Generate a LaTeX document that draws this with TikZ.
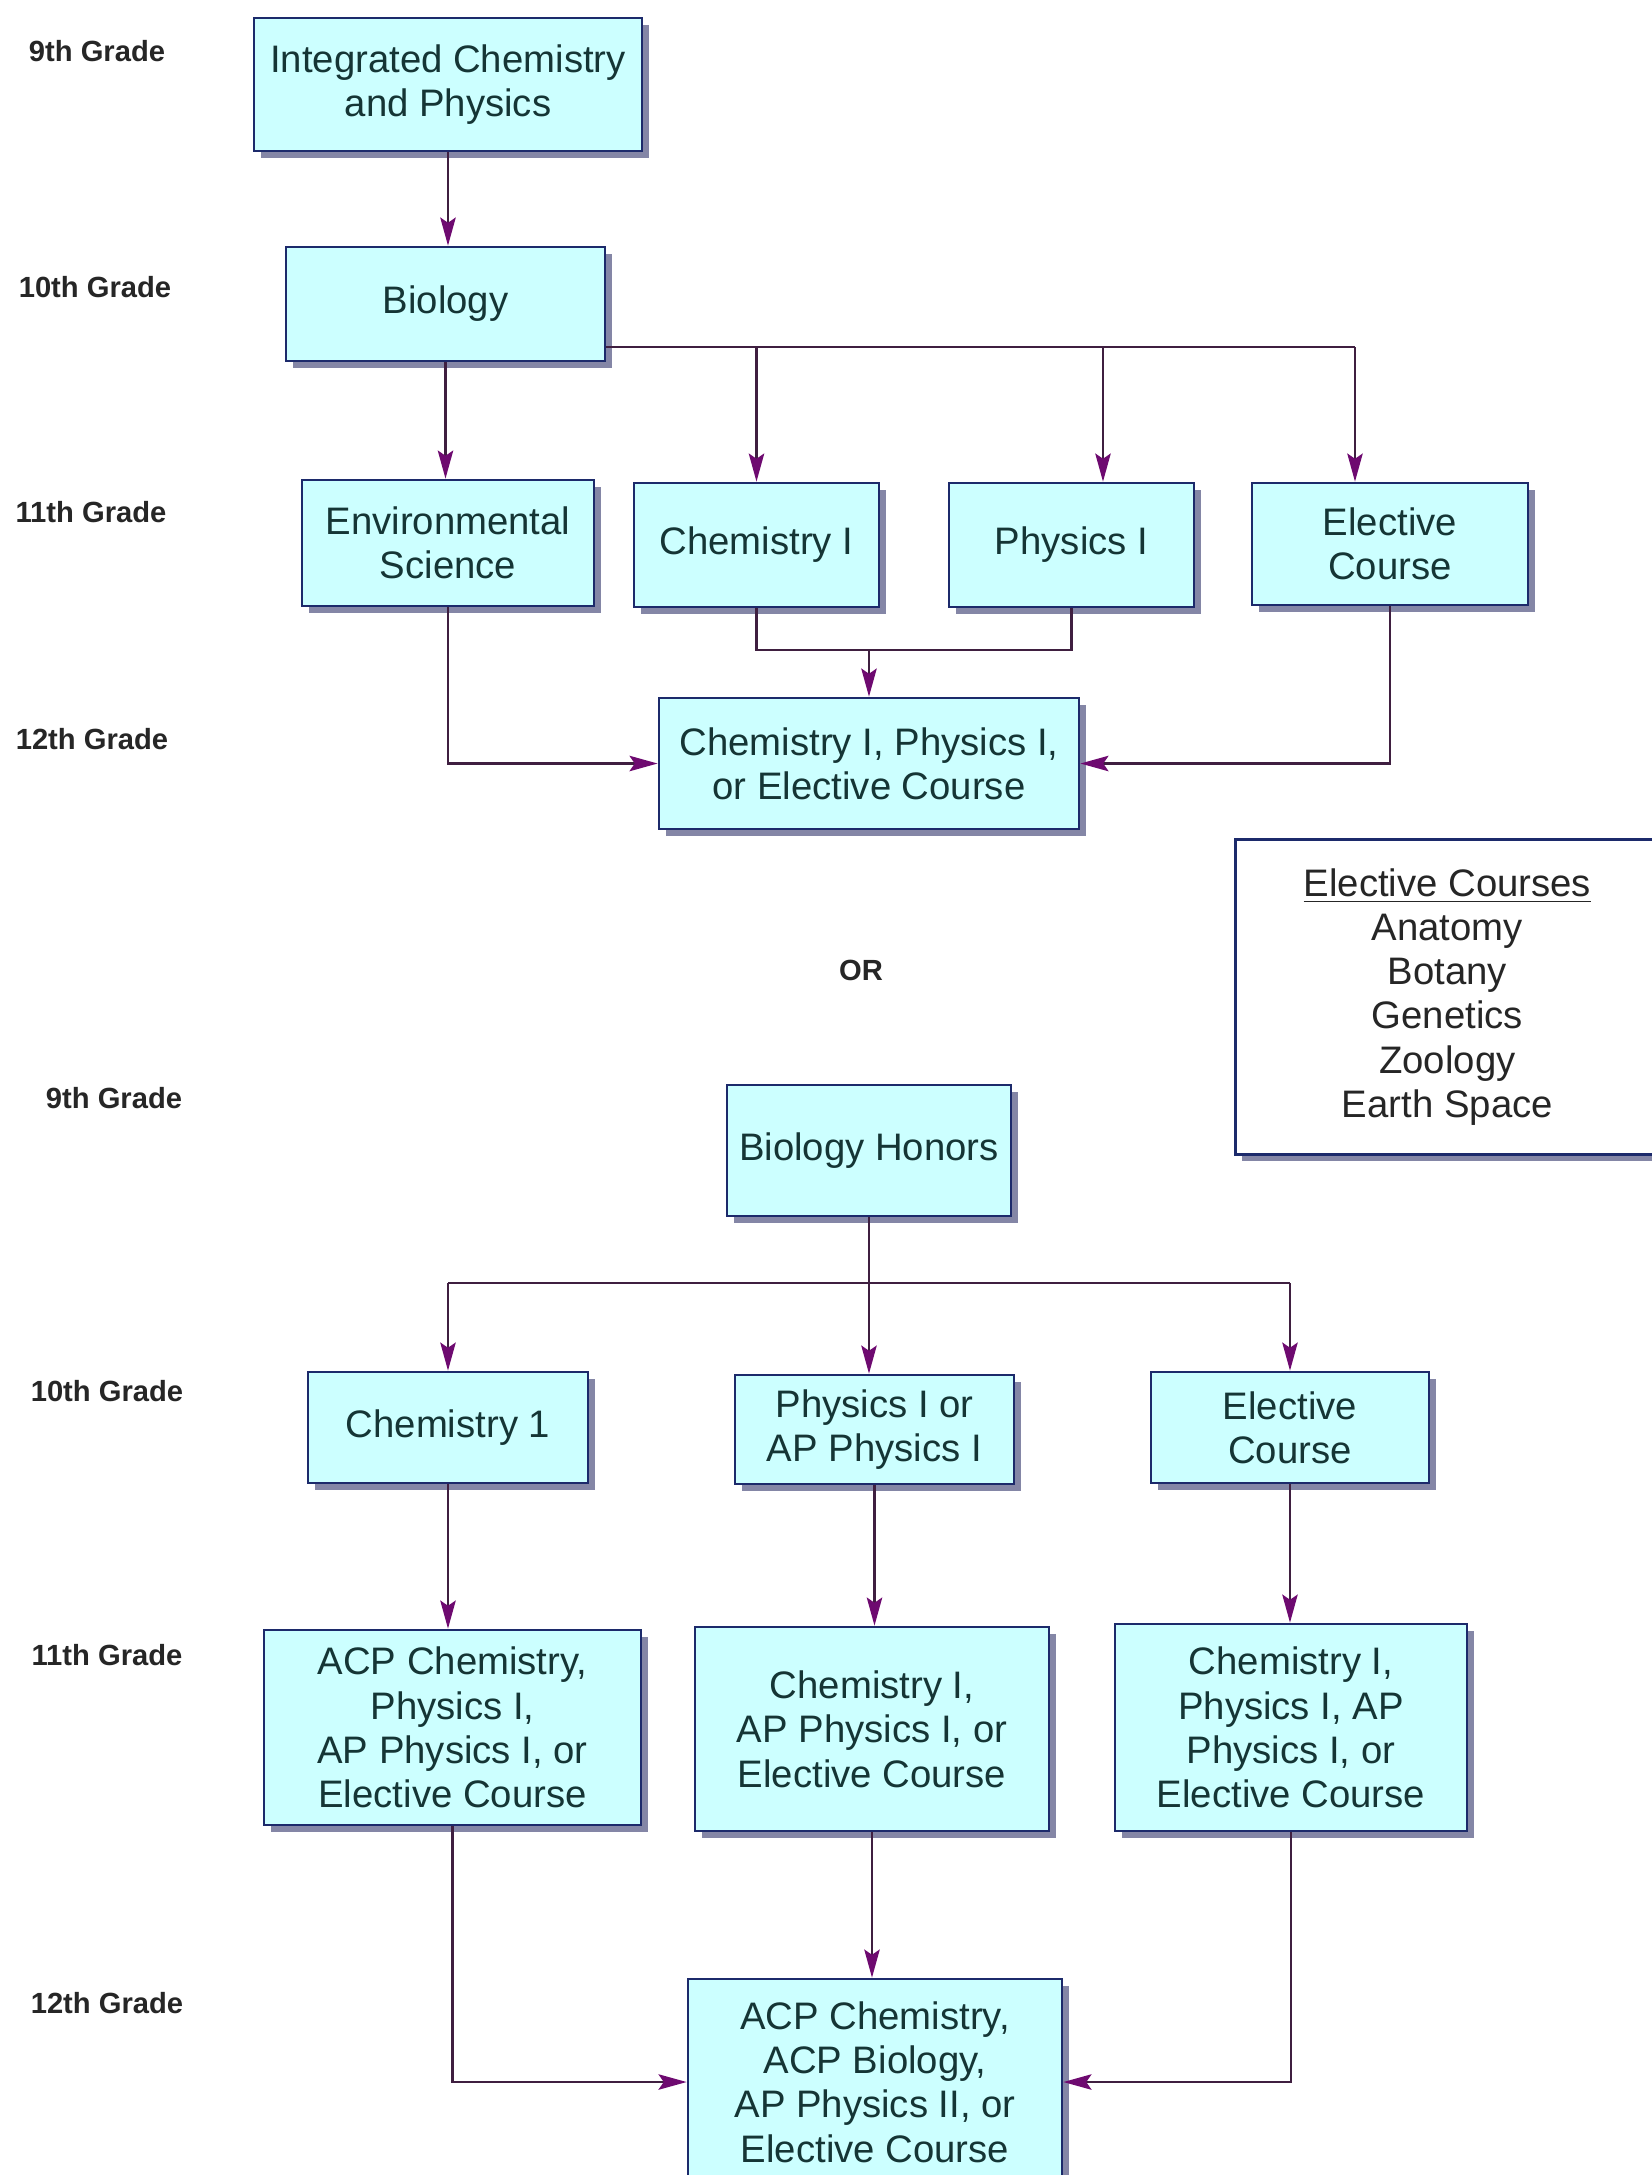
\documentclass[tikz,border=0pt]{standalone}
\usepackage{fontspec}
\setmainfont{Liberation Sans}
\usetikzlibrary{arrows.meta}
\usetikzlibrary{shadows}

\definecolor{boxfill}{HTML}{CCFFFF}
\definecolor{boxline}{HTML}{1C2A6B}
\definecolor{boxshade}{HTML}{8486A6}
\definecolor{boxtext}{HTML}{153535}
\definecolor{linkc}{HTML}{3F1F40}
\definecolor{tipc}{HTML}{6E0A70}
\newcommand{\coursefont}{\fontsize{10.9}{12.6}\selectfont}
\newcommand{\gradefont}{\fontsize{8.3}{10}\selectfont\bfseries}

\tikzset{
  course/.style={draw=boxline, fill=boxfill, line width=0.8pt, align=center,
    text=boxtext, font=\coursefont, inner sep=0pt,
    drop shadow={shadow xshift=2pt, shadow yshift=-2pt, fill=boxshade, opacity=1}},
  legend/.style={course, fill=white, text=black!85},
  grade/.style={font=\gradefont, text=black!85},
  link/.style={draw=linkc, line width=0.6pt},
  arrow/.style={link, -{Stealth[length=8pt, width=4.4pt, inset=1.5pt, color=tipc]}}
}

\begin{document}
\begin{tikzpicture}
  \fill[white] (0,0) rectangle (16.52,-21.75);
  \clip (0,0) rectangle (16.52,-21.75);

  \node[grade] (g9a) at (0.97,-0.51) {9th Grade};
  \node[grade] (g10a) at (0.95,-2.87) {10th Grade};
  \node[grade] (g11a) at (0.91,-5.12) {11th Grade};
  \node[grade] (g12a) at (0.92,-7.39) {12th Grade};
  \node[grade] (or) at (8.61,-9.70) {OR};
  \node[grade] (g9b) at (1.14,-10.98) {9th Grade};
  \node[grade] (g10b) at (1.07,-13.91) {10th Grade};
  \node[grade] (g11b) at (1.07,-16.55) {11th Grade};
  \node[grade] (g12b) at (1.07,-20.03) {12th Grade};

  \node[course, minimum width=3.88cm, minimum height=1.33cm] (icp) at (4.48,-0.845) {Integrated Chemistry\\and Physics};
  \node[course, minimum width=3.19cm, minimum height=1.14cm] (bio) at (4.455,-3.04) {Biology};
  \node[course, minimum width=2.92cm, minimum height=1.26cm] (env) at (4.48,-5.43) {Environmental\\Science};
  \node[course, minimum width=2.45cm, minimum height=1.24cm] (chem) at (7.565,-5.45) {Chemistry I};
  \node[course, minimum width=2.45cm, minimum height=1.24cm] (phys) at (10.715,-5.45) {Physics I};
  \node[course, minimum width=2.76cm, minimum height=1.22cm] (elec) at (13.90,-5.44) {Elective\\Course};
  \node[course, minimum width=4.20cm, minimum height=1.31cm] (twelve) at (8.69,-7.635) {Chemistry I, Physics I,\\or Elective Course};

  \node[legend, minimum width=4.24cm, minimum height=3.15cm, anchor=north west] (courses) at (12.34,-8.38)
    {\underline{Elective Courses}\\Anatomy\\Botany\\Genetics\\Zoology\\Earth Space};

  \node[course, minimum width=2.84cm, minimum height=1.31cm] (bhon) at (8.69,-11.505) {Biology Honors};
  \node[course, minimum width=2.80cm, minimum height=1.11cm] (chem1) at (4.48,-14.275) {Chemistry 1};
  \node[course, minimum width=2.79cm, minimum height=1.09cm] (physap) at (8.745,-14.295) {Physics I or\\AP Physics I};
  \node[course, minimum width=2.78cm, minimum height=1.11cm] (elec2) at (12.90,-14.275) {Elective\\Course};
  \node[course, minimum width=3.77cm, minimum height=1.95cm] (acp) at (4.525,-17.275) {ACP Chemistry,\\Physics I,\\AP Physics I, or\\Elective Course};
  \node[course, minimum width=3.54cm, minimum height=2.04cm] (chemap) at (8.72,-17.29) {Chemistry I,\\AP Physics I, or\\Elective Course};
  \node[course, minimum width=3.52cm, minimum height=2.07cm] (cpap) at (12.91,-17.275) {Chemistry I,\\Physics I, AP\\Physics I, or\\Elective Course};
  \node[course, minimum width=3.74cm, minimum height=2.06cm] (final) at (8.75,-20.82) {ACP Chemistry,\\ACP Biology,\\AP Physics II, or\\Elective Course};

  \coordinate (bsplit) at (0,-3.47);
  \coordinate (cpjoin) at (0,-6.50);
  \coordinate (hsplit) at (0,-12.83);
  \coordinate (physin) at ([xshift=3.15mm]phys.north);
  \coordinate (elecin) at ([xshift=-3.5mm]elec.north);

  \draw[arrow] (icp.south) -- (icp.south |- bio.north);
  \draw[arrow] (bio.south) -- (bio.south |- env.north);
  \draw[link] (bio.east |- bsplit) -- (elecin |- bsplit);
  \draw[arrow] (chem.north |- bsplit) -- (chem.north);
  \draw[arrow] (physin |- bsplit) -- (physin);
  \draw[arrow] (elecin |- bsplit) -- (elecin);
  \draw[link] (chem.south) |- (phys.south |- cpjoin) -- (phys.south);
  \draw[arrow] (twelve.north |- cpjoin) -- (twelve.north);
  \draw[arrow] (env.south) |- (twelve.west);
  \draw[arrow] (elec.south) |- (twelve.east);

  \draw[link] (chem1.north |- hsplit) -- (elec2.north |- hsplit);
  \draw[arrow] (bhon.south) -- (bhon.south |- physap.north);
  \draw[arrow] (chem1.north |- hsplit) -- (chem1.north);
  \draw[arrow] (elec2.north |- hsplit) -- (elec2.north);
  \draw[arrow] (chem1.south) -- (chem1.south |- acp.north);
  \draw[arrow] (physap.south) -- (physap.south |- chemap.north);
  \draw[arrow] (elec2.south) -- (elec2.south |- cpap.north);
  \draw[arrow] (acp.south) |- (final.west);
  \draw[arrow] (chemap.south) -- (chemap.south |- final.north);
  \draw[arrow] (cpap.south) |- (final.east);
\end{tikzpicture}
\end{document}
